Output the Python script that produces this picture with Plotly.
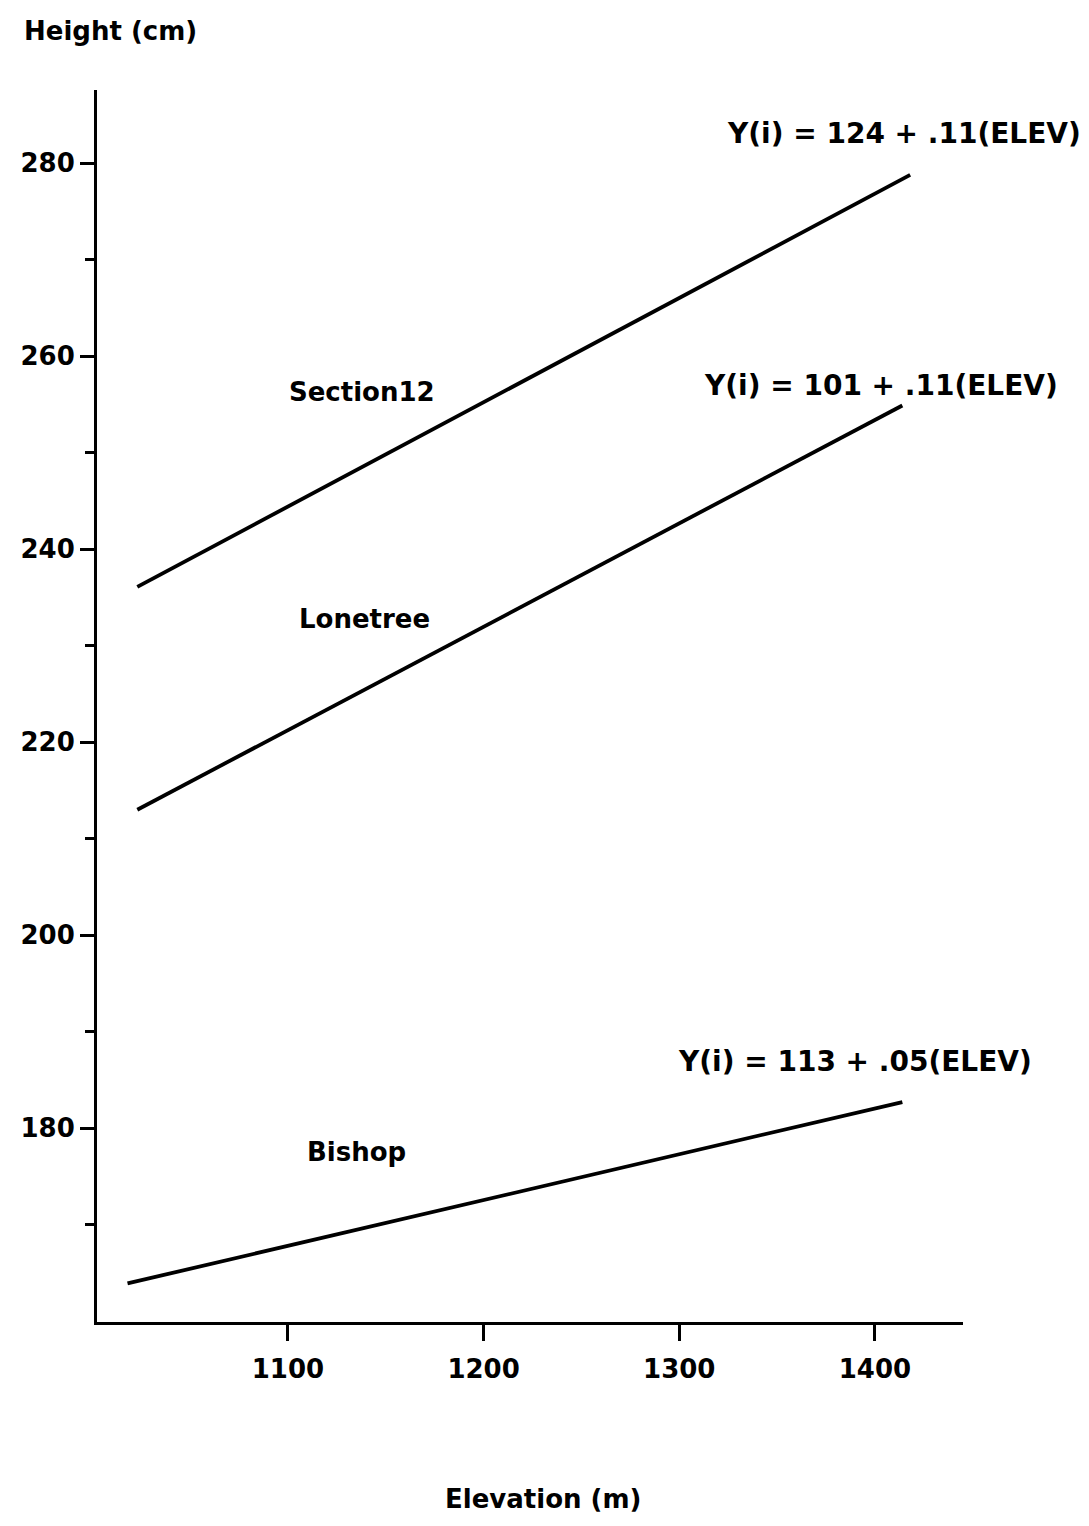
import plotly.graph_objects as go

# Data
sites = ["Section12", "Lonetree", "Bishop"]
elev_start = [1023, 1023, 1018]
elev_end = [1418, 1414, 1414]
height_start = [236.1, 213.0, 163.9]
height_end = [278.8, 254.9, 182.7]
equations = ["Y(i) = 124 + .11(ELEV)", "Y(i) = 101 + .11(ELEV)", "Y(i) = 113 + .05(ELEV)"]

# label positions (data coords)
name_x = [1138, 1139, 1135]
name_y = [256.3, 232.8, 177.5]
eq_x = [1415, 1403, 1390]
eq_y = [283.1, 257.0, 186.9]

y_major = [180, 200, 220, 240, 260, 280]
y_minor = [170, 190, 210, 230, 250, 270]
x_major = [1100, 1200, 1300, 1400]

FONT = "DejaVu Sans"
OFF = 8  # default page body margin

fig = go.Figure()
for i, s in enumerate(sites):
    fig.add_trace(go.Scatter(
        x=[elev_start[i], elev_end[i]],
        y=[height_start[i], height_end[i]],
        mode="lines", line=dict(color="black", width=3.8),
        name=s, showlegend=False))

annotations = []
for i, s in enumerate(sites):
    annotations.append(dict(x=name_x[i], y=name_y[i], text=s, showarrow=False,
                            font=dict(family=FONT, size=26, color="black", weight="bold"),
                            xanchor="center", yanchor="middle"))
    annotations.append(dict(x=eq_x[i], y=eq_y[i], text=equations[i], showarrow=False,
                            font=dict(family=FONT, size=28, color="black", weight="bold"),
                            xanchor="center", yanchor="middle"))

W, H = 1089 - 2 * OFF, 1526 - 2 * OFF
ml, mt = 97 - OFF, 90 - OFF
pw, ph = 963 - 97, 1322 - 90
mr, mb = W - ml - pw, H - mt - ph

def to_paper(px, py):
    return (px - OFF - ml) / pw, 1 - (py - OFF - mt) / ph

hx, hy = to_paper(22, 31)
annotations.append(dict(x=hx, y=hy, xref="paper", yref="paper", text="Height (cm)",
                        showarrow=False, font=dict(family=FONT, size=26, color="black", weight="bold"),
                        xanchor="left", yanchor="middle"))
ex, ey = to_paper(543, 1499)
annotations.append(dict(x=ex, y=ey, xref="paper", yref="paper", text="Elevation (m)",
                        showarrow=False, font=dict(family=FONT, size=26, color="black", weight="bold"),
                        xanchor="center", yanchor="middle"))

fig.update_layout(
    width=W, height=H,
    margin=dict(l=ml, r=mr, t=mt, b=mb),
    paper_bgcolor="white", plot_bgcolor="white",
    annotations=annotations,
    xaxis=dict(range=[1002.4, 1445], tickvals=x_major, ticks="outside", ticklen=16,
               tickwidth=3, tickcolor="black", showline=True, linecolor="black",
               linewidth=3, showgrid=False, zeroline=False, ticklabelstandoff=6,
               tickfont=dict(family=FONT, size=26, color="black", weight="bold")),
    yaxis=dict(range=[159.9, 287.6], tickvals=y_major, ticks="outside", ticklen=14,
               tickwidth=3, tickcolor="black", showline=True, linecolor="black",
               linewidth=3, showgrid=False, zeroline=False,
               minor=dict(tickvals=y_minor, ticks="outside", ticklen=9, tickwidth=2.5,
                          tickcolor="black", showgrid=False),
               tickfont=dict(family=FONT, size=26, color="black", weight="bold")),
)

fig.write_html("out.html")
